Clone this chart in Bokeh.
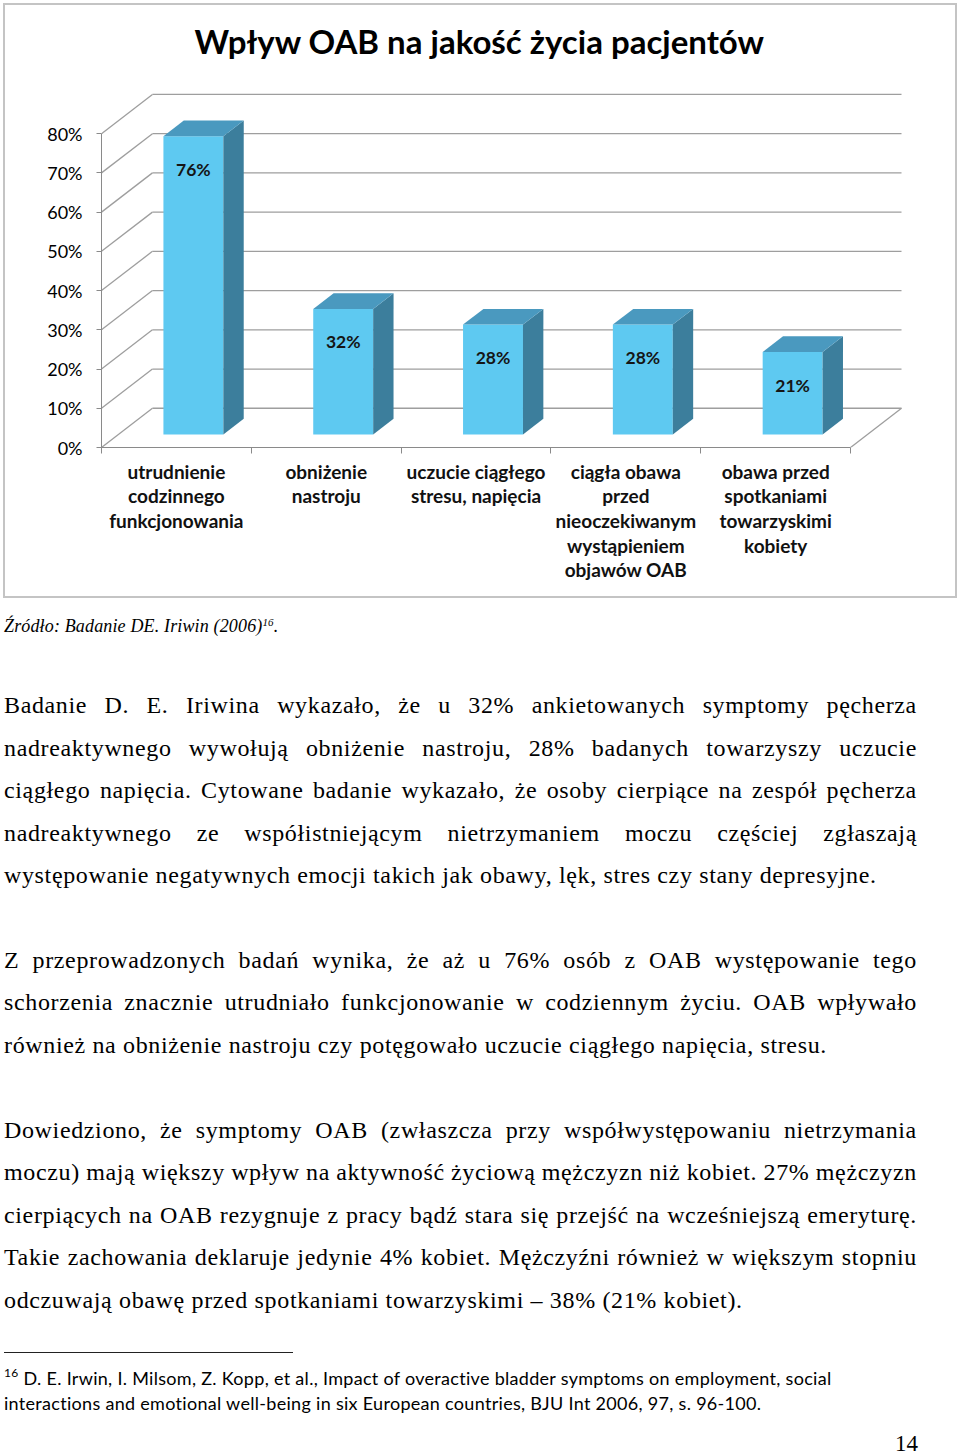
from bokeh.plotting import figure
from bokeh.models import Range1d, FixedTicker, ColumnDataSource, Div, Title
from bokeh.layouts import column
from bokeh.embed import file_html
from bokeh.resources import INLINE
from bokeh.core.properties import value

# ---------------- data ----------------
title_text = "Wpływ OAB na jakość życia pacjentów"
categories = [
    "utrudnienie\ncodzinnego\nfunkcjonowania",
    "obniżenie\nnastroju",
    "uczucie ciągłego\nstresu, napięcia",
    "ciągła obawa\nprzed\nnieoczekiwanym\nwystąpieniem\nobjawów OAB",
    "obawa przed\nspotkaniami\ntowarzyskimi\nkobiety",
]
values = [76, 32, 28, 28, 21]
y_ticks = [0, 10, 20, 30, 40, 50, 60, 70, 80]
y_tick_labels = ["0%", "10%", "20%", "30%", "40%", "50%", "60%", "70%", "80%"]

source_text = "Źródło: Badanie DE. Iriwin (2006)"
paragraphs = [
    [
        "Badanie D. E. Iriwina wykazało, że u 32% ankietowanych symptomy pęcherza",
        "nadreaktywnego wywołują obniżenie nastroju, 28% badanych towarzyszy uczucie",
        "ciągłego napięcia. Cytowane badanie wykazało, że osoby cierpiące na zespół pęcherza",
        "nadreaktywnego ze współistniejącym nietrzymaniem moczu częściej zgłaszają",
        "występowanie negatywnych emocji takich jak obawy, lęk, stres czy stany depresyjne.",
    ],
    [
        "Z przeprowadzonych badań wynika, że aż u 76% osób z OAB występowanie tego",
        "schorzenia znacznie utrudniało funkcjonowanie w codziennym życiu. OAB wpływało",
        "również na obniżenie nastroju czy potęgowało uczucie ciągłego napięcia, stresu.",
    ],
    [
        "Dowiedziono, że symptomy OAB (zwłaszcza przy współwystępowaniu nietrzymania",
        "moczu) mają większy wpływ na aktywność życiową mężczyzn niż kobiet. 27% mężczyzn",
        "cierpiących na OAB rezygnuje z pracy bądź stara się przejść na wcześniejszą emeryturę.",
        "Takie zachowania deklaruje jedynie 4% kobiet. Mężczyźni również w większym stopniu",
        "odczuwają obawę przed spotkaniami towarzyskimi – 38% (21% kobiet).",
    ],
]
footnote_mark = "16"
footnote_lines = [
    "D. E. Irwin, I. Milsom, Z. Kopp, et al., Impact of overactive bladder symptoms on employment, social",
    "interactions and emotional well-being in six European countries, BJU Int 2006, 97, s. 96-100.",
]
page_number = "14"

# ---------------- 3D geometry (style) ----------------
DX, DY = 0.34, 10.0      # floor depth in x units / y units
POS = 1.0 / 3.0          # bar position within the depth
BW = 0.40                # bar width (category units)
BD = 0.40                # bar depth as fraction of floor depth
n = len(values)

FRONT = "#5EC9F1"
SIDE = "#3C7E9C"
TOP = "#4A99BF"
GRID = "#9E9E9E"
AXIS = "#8A8A8A"

centers = [i + 0.5 for i in range(n)]
left = [c - BW / 2 + POS * DX for c in centers]
right = [l + BW for l in left]
base = POS * DY
tops = [v + base for v in values]
bdx, bdy = BD * DX, BD * DY

front_src = ColumnDataSource(dict(left=left, right=right, bottom=[base] * n, top=tops))
side_src = ColumnDataSource(dict(
    xs=[[r, r + bdx, r + bdx, r] for r in right],
    ys=[[base, base + bdy, t + bdy, t] for t in tops]))
top_src = ColumnDataSource(dict(
    xs=[[l, l + bdx, r + bdx, r] for l, r in zip(left, right)],
    ys=[[t, t + bdy, t + bdy, t] for t in tops]))
lab_src = ColumnDataSource(dict(x=[(l + r) / 2 for l, r in zip(left, right)], y=tops,
                                text=[f"{v}%" for v in values]))

W1, H1 = 954, 595
X_END = n + DX + 0.02
Y_END = y_ticks[-1] + DY + 1
p = figure(width=W1, height=H1, title=None,
           x_range=Range1d(0, X_END), y_range=Range1d(0, Y_END),
           output_backend="svg", toolbar_location=None,
           min_border_left=96, min_border_right=55, min_border_top=85, min_border_bottom=153,
           background_fill_color="white", border_fill_color="white", outline_line_color=None,
           styles={"border": "2px solid #c4c4c4", "margin": "3px 0px 0px 3px"})
p.xgrid.visible = False
p.ygrid.visible = False

# title (spacer keeps it clear of the plot area)
p.add_layout(Title(text=" ", text_font_size="10px", standoff=12), "above")
p.add_layout(Title(text=title_text, align="left", offset=93, standoff=10,
                   text_font="Lato", text_font_style="bold", text_font_size="33px",
                   text_color="#000000"), "above")

# back wall, side wall and floor lines
wall_xs, wall_ys = [], []
for t in y_ticks:
    wall_xs.append([DX, n + DX]); wall_ys.append([t + DY, t + DY])
    wall_xs.append([0, DX]); wall_ys.append([t, t + DY])
wall_xs.append([n, n + DX]); wall_ys.append([0, DY])
p.multi_line(wall_xs, wall_ys, line_color=GRID, line_width=1.3)

# bars
p.quad(left="left", right="right", bottom="bottom", top="top", source=front_src,
       fill_color=FRONT, line_color=None)
p.patches("xs", "ys", source=side_src, fill_color=SIDE, line_color=None)
p.patches("xs", "ys", source=top_src, fill_color=TOP, line_color=None)
p.text(x="x", y="y", text="text", source=lab_src, y_offset=33,
       text_align="center", text_baseline="middle", text_font=value("Lato"),
       text_font_style="bold", text_font_size="17.5px", text_color="#151515")

# y axis
ya = p.yaxis[0]
ya.ticker = FixedTicker(ticks=y_ticks)
ya.major_label_overrides = {t: s for t, s in zip(y_ticks, y_tick_labels)}
ya.bounds = (y_ticks[0], y_ticks[-1])
ya.axis_line_color = AXIS
ya.major_tick_line_color = AXIS
ya.major_tick_out = 5
ya.major_tick_in = 0
ya.minor_tick_line_color = None
ya.major_label_standoff = 14
ya.major_label_text_font = "Lato"
ya.major_label_text_font_size = "18px"
ya.major_label_text_color = "#000000"

# x axis (category labels)
xa = p.xaxis[0]
xa.ticker = FixedTicker(ticks=centers, minor_ticks=list(range(n + 1)))
xa.major_label_overrides = {c: s for c, s in zip(centers, categories)}
xa.bounds = (0, n)
xa.axis_line_color = AXIS
xa.major_tick_line_color = None
xa.major_tick_out = 0
xa.major_tick_in = 0
xa.minor_tick_line_color = AXIS
xa.minor_tick_out = 6
xa.minor_tick_in = 0
xa.major_label_standoff = 6
xa.major_label_text_font = "Lato"
xa.major_label_text_font_style = "bold"
xa.major_label_text_font_size = "19px"
xa.major_label_text_line_height = 1.075
xa.major_label_text_color = "#111111"

# ---------------- text below the chart ----------------
DIV_TOP = 3 + H1          # page y of the text block
SERIF = "'Liberation Serif', 'Times New Roman', serif"
SANS = "Lato, 'Open Sans', sans-serif"


def txt(s, top, left, size, family, lh, extra=""):
    return (f'<div style="position:absolute;left:{left}px;top:{top - DIV_TOP:.1f}px;'
            f'font-size:{size}px;font-family:{family};line-height:{lh}px;white-space:nowrap;'
            f'color:#000;{extra}">{s}</div>')


def just(s, top, left, width, size, family, lh, extra=""):
    words = "".join(f"<span>{w}</span>" for w in s.split(" "))
    return (f'<div style="position:absolute;left:{left}px;top:{top - DIV_TOP:.1f}px;width:{width}px;'
            f'display:flex;justify-content:space-between;white-space:nowrap;'
            f'font-size:{size}px;font-family:{family};line-height:{lh}px;color:#000;{extra}">{words}</div>')


BODY_EXTRA = "letter-spacing:0.64px;"
parts = []
parts.append(txt(source_text + '<sup style="font-size:11px;vertical-align:6px;line-height:0">16</sup>.',
                 632 - 17.1, 4, 18, SERIF, 22, "font-style:italic;letter-spacing:0.15px;"))
LINE0, STEP = 713.3, 42.45
k = 0
for para in paragraphs:
    for j, line in enumerate(para):
        base_y = LINE0 + STEP * k
        if j < len(para) - 1:
            parts.append(just(line, base_y - 23.1, 4, 913, 24, SERIF, 30, BODY_EXTRA))
        else:
            parts.append(txt(line, base_y - 23.1, 4, 24, SERIF, 30, BODY_EXTRA))
        k += 1
    k += 1
parts.append(f'<div style="position:absolute;left:4px;top:{1352 - DIV_TOP}px;width:289px;height:0;'
             f'border-top:1.5px solid #222"></div>')
FOOT_EXTRA = "letter-spacing:0.3px;"
parts.append(txt(f'<span style="font-size:12px;position:relative;top:-8px">{footnote_mark}</span> '
                 + footnote_lines[0], 1385 - 18, 4, 18, SANS, 22, FOOT_EXTRA))
parts.append(txt(footnote_lines[1], 1410 - 18, 4, 18, SANS, 22, FOOT_EXTRA))
parts.append(txt(page_number, 1452 - 17.8, 895, 23, SERIF, 20))

H2 = 1455 - DIV_TOP - 2
html = f'<div style="position:relative;width:957px;height:{H2}px;">' + "".join(parts) + "</div>"
div = Div(text=html, width=957, height=H2, margin=0, styles={"overflow": "visible"})

layout = column(p, div, spacing=0)
open("out.html", "w", encoding="utf-8").write(file_html(layout, INLINE))
